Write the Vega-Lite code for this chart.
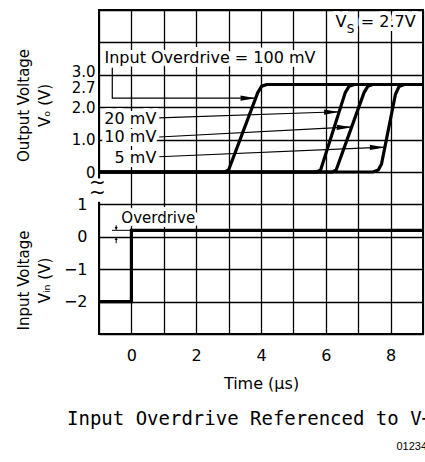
{
  "$schema": "https://vega.github.io/schema/vega-lite/v6.json",
  "autosize": {"type": "none"},
  "padding": {"left": 99, "top": 10, "right": 2, "bottom": 128},
  "width": 324,
  "height": 324,
  "background": "white",
  "config": {
    "view": {"stroke": "#000", "strokeWidth": 2},
    "font": "DejaVu Sans",
    "axis": {"labelFont": "DejaVu Sans", "titleFont": "DejaVu Sans", "labelColor": "#000", "titleColor": "#000", "titleFontWeight": "normal", "ticks": false, "domain": false, "gridColor": "#000", "gridWidth": 1.3, "gridOpacity": 1, "labelOverlap": false, "labelFlush": false},
    "text": {"font": "DejaVu Sans", "fontSize": 16, "color": "#000"}
  },
  "title": {"text": "Input Overdrive Referenced to V+", "orient": "bottom", "anchor": "start", "frame": "group", "dx": -32, "font": "DejaVu Sans Mono", "fontSize": 19, "fontWeight": "normal", "color": "#000", "offset": -42, "baseline": "top"},
  "datasets": {
    "traces": [
      {"id": "100", "t": -1, "vo": 0}, {"id": "100", "t": 2.88, "vo": 0}, {"id": "100", "t": 3.0, "vo": 0.06}, {"id": "100", "t": 3.9, "vo": 2.45}, {"id": "100", "t": 4.02, "vo": 2.65}, {"id": "100", "t": 4.18, "vo": 2.7}, {"id": "100", "t": 9, "vo": 2.7},
      {"id": "20", "t": -1, "vo": 0}, {"id": "20", "t": 5.72, "vo": 0}, {"id": "20", "t": 5.84, "vo": 0.06}, {"id": "20", "t": 6.6, "vo": 2.45}, {"id": "20", "t": 6.72, "vo": 2.65}, {"id": "20", "t": 6.88, "vo": 2.7}, {"id": "20", "t": 9, "vo": 2.7},
      {"id": "10", "t": -1, "vo": 0}, {"id": "10", "t": 6.2, "vo": 0}, {"id": "10", "t": 6.32, "vo": 0.06}, {"id": "10", "t": 7.18, "vo": 2.45}, {"id": "10", "t": 7.3, "vo": 2.65}, {"id": "10", "t": 7.45, "vo": 2.7}, {"id": "10", "t": 9, "vo": 2.7},
      {"id": "5", "t": -1, "vo": 0}, {"id": "5", "t": 7.45, "vo": 0}, {"id": "5", "t": 7.62, "vo": 0.06}, {"id": "5", "t": 7.72, "vo": 0.25}, {"id": "5", "t": 8.15, "vo": 2.4}, {"id": "5", "t": 8.26, "vo": 2.64}, {"id": "5", "t": 8.42, "vo": 2.7}, {"id": "5", "t": 9, "vo": 2.7}
    ],
    "leaders": [
      {"id": "100", "k": 0, "t": -0.59, "vo": 3.22}, {"id": "100", "k": 1, "t": -0.59, "vo": 2.28}, {"id": "100", "k": 2, "t": 3.83, "vo": 2.28},
      {"id": "20", "k": 0, "t": 0.86, "vo": 1.67}, {"id": "20", "k": 1, "t": 6.41, "vo": 1.86},
      {"id": "10", "k": 0, "t": 0.86, "vo": 1.08}, {"id": "10", "k": 1, "t": 6.8, "vo": 1.39},
      {"id": "5", "k": 0, "t": 0.86, "vo": 0.47}, {"id": "5", "k": 1, "t": 7.82, "vo": 0.77}
    ],
    "arrows": [
      {"t": 3.6, "vo": 2.28}, {"t": 6.18, "vo": 1.85}, {"t": 6.57, "vo": 1.38}, {"t": 7.59, "vo": 0.76}
    ],
    "labels_left": [
      {"t": -0.83, "vo": 3.36, "label": "Input Overdrive = 100 mV"},
      {"t": 6.3, "vo": 4.48, "label": "V"},
      {"t": 7.08, "vo": 4.48, "label": "= 2.7V"}
    ],
    "labels_right": [
      {"t": 0.77, "vo": 1.48, "label": "20 mV"},
      {"t": 0.77, "vo": 0.93, "label": "10 mV"},
      {"t": 0.77, "vo": 0.28, "label": "5 mV"}
    ],
    "labels_sub": [{"t": 6.65, "vo": 4.3, "label": "S"}],
    "break_gap": [{"t": -1, "vo": -0.2, "vo2": -0.92}],
    "squiggles": [{"t": -1.05, "vo": -0.35, "label": "~"}, {"t": -1.05, "vo": -0.66, "label": "~"}],
    "vin_trace": [
      {"k": 0, "t": -1, "vin": -2}, {"k": 1, "t": 0, "vin": -2}, {"k": 2, "t": 0, "vin": 0.2}, {"k": 3, "t": 9, "vin": 0.2}
    ],
    "vin_labels": [{"t": -0.31, "vin": 0.43, "label": "Overdrive"}],
    "od_lines": [
      {"id": "h", "k": 0, "t": -0.6, "vin": 0.2}, {"id": "h", "k": 1, "t": 0, "vin": 0.2},
      {"id": "a", "k": 0, "t": -0.47, "vin": 0.36}, {"id": "a", "k": 1, "t": -0.47, "vin": 0.22},
      {"id": "b", "k": 0, "t": -0.47, "vin": -0.2}, {"id": "b", "k": 1, "t": -0.47, "vin": -0.02}
    ],
    "od_down": [{"t": -0.47, "vin": 0.26}],
    "od_up": [{"t": -0.47, "vin": -0.06}],
    "fig_id": [{"t": 8.18, "vin": -6.58, "label": "01234567"}]
  },
  "encoding": {
    "x": {"field": "t", "type": "quantitative", "scale": {"domain": [-1, 9], "nice": false, "zero": false},
      "axis": {"values": [-1, 0, 1, 2, 3, 4, 5, 6, 7, 8, 9], "grid": true, "labelExpr": "datum.value >= 0 && datum.value % 2 == 0 ? datum.label : ''", "labelFontSize": 16, "labelPadding": 13, "title": "Time (μs)", "titleFontSize": 16, "titleY": 54, "titleBaseline": "alphabetic"}}
  },
  "layer": [
    {
      "encoding": {
        "y": {"field": "vo", "type": "quantitative", "scale": {"domain": [-5, 5], "nice": false, "zero": false},
          "axis": {"orient": "left", "values": [0, 1, 2, 2.7, 3], "grid": false, "labelExpr": "datum.value == 0 ? '0' : format(datum.value, '.1f')", "labelFontSize": 15, "labelPadding": 4,
            "labelOffset": {"condition": [{"test": "datum.value == 3", "value": -3}, {"test": "datum.value == 2.7", "value": 3}], "value": 0},
            "title": ["Output Voltage", "Vₒ (V)"], "titleFontSize": 15, "titleAngle": -90, "titleAlign": "center", "titleBaseline": "middle", "titleX": -76, "titleY": 95, "titleLineHeight": 21}}
      },
      "layer": [
        {"data": {"name": "labels_left"}, "mark": {"type": "text", "align": "left", "baseline": "alphabetic", "fill": "#fff", "stroke": "#fff", "strokeWidth": 8, "strokeJoin": "round"}, "encoding": {"text": {"field": "label"}}},
        {"data": {"name": "labels_right"}, "mark": {"type": "text", "align": "right", "baseline": "alphabetic", "fill": "#fff", "stroke": "#fff", "strokeWidth": 8, "strokeJoin": "round"}, "encoding": {"text": {"field": "label"}}},
        {"data": {"name": "labels_sub"}, "mark": {"type": "text", "align": "left", "baseline": "alphabetic", "fontSize": 12, "fill": "#fff", "stroke": "#fff", "strokeWidth": 8, "strokeJoin": "round"}, "encoding": {"text": {"field": "label"}}},
        {"data": {"name": "labels_left"}, "mark": {"type": "text", "align": "left", "baseline": "alphabetic", "color": "#000"}, "encoding": {"text": {"field": "label"}}},
        {"data": {"name": "labels_right"}, "mark": {"type": "text", "align": "right", "baseline": "alphabetic", "color": "#000"}, "encoding": {"text": {"field": "label"}}},
        {"data": {"name": "labels_sub"}, "mark": {"type": "text", "align": "left", "baseline": "alphabetic", "fontSize": 12, "color": "#000"}, "encoding": {"text": {"field": "label"}}},
        {"data": {"name": "leaders"}, "mark": {"type": "line", "color": "#000", "strokeWidth": 1.2}, "encoding": {"detail": {"field": "id"}, "order": {"field": "k"}}},
        {"data": {"name": "arrows"}, "mark": {"type": "point", "shape": "M-1,-0.35L1,0L-1,0.35Z", "size": 225, "filled": true, "color": "#000", "opacity": 1, "strokeWidth": 0}},
        {"data": {"name": "traces"}, "mark": {"type": "line", "color": "#000", "strokeWidth": 3.2, "strokeJoin": "round"}, "encoding": {"detail": {"field": "id"}}},
        {"data": {"name": "break_gap"}, "mark": {"type": "rule", "color": "#fff", "strokeWidth": 5}, "encoding": {"y2": {"field": "vo2"}}},
        {"data": {"name": "squiggles"}, "mark": {"type": "text", "align": "center", "baseline": "middle", "fontSize": 20, "color": "#000"}, "encoding": {"text": {"field": "label"}}}
      ]
    },
    {
      "encoding": {
        "y": {"field": "vin", "type": "quantitative", "scale": {"domain": [-3, 7], "nice": false, "zero": false},
          "axis": {"orient": "left", "values": [-3, -2, -1, 0, 1, 2, 3, 4, 5, 6, 7], "grid": true, "labelExpr": "datum.value >= -2 && datum.value <= 1 ? datum.label : ''", "labelFontSize": 16, "labelPadding": 12,
            "title": ["Input Voltage", "Vᵢₙ (V)"], "titleFontSize": 15, "titleAngle": -90, "titleAlign": "center", "titleBaseline": "middle", "titleX": -76, "titleY": 270, "titleLineHeight": 21}}
      },
      "layer": [
        {"data": {"name": "vin_labels"}, "mark": {"type": "text", "align": "left", "baseline": "alphabetic", "fontSize": 15, "fill": "#fff", "stroke": "#fff", "strokeWidth": 8, "strokeJoin": "round"}, "encoding": {"text": {"field": "label"}}},
        {"data": {"name": "vin_labels"}, "mark": {"type": "text", "align": "left", "baseline": "alphabetic", "fontSize": 15, "color": "#000"}, "encoding": {"text": {"field": "label"}}},
        {"data": {"name": "od_lines"}, "mark": {"type": "line", "color": "#000", "strokeWidth": 1}, "encoding": {"detail": {"field": "id"}, "order": {"field": "k"}}},
        {"data": {"name": "od_down"}, "mark": {"type": "point", "shape": "triangle-down", "size": 10, "filled": true, "color": "#000", "opacity": 1}},
        {"data": {"name": "od_up"}, "mark": {"type": "point", "shape": "triangle-up", "size": 10, "filled": true, "color": "#000", "opacity": 1}},
        {"data": {"name": "vin_trace"}, "mark": {"type": "line", "color": "#000", "strokeWidth": 3.2, "strokeJoin": "miter"}, "encoding": {"order": {"field": "k"}}},
        {"data": {"name": "fig_id"}, "mark": {"type": "text", "align": "left", "baseline": "alphabetic", "font": "Liberation Sans", "fontSize": 11, "color": "#000"}, "encoding": {"text": {"field": "label"}}}
      ]
    }
  ],
  "resolve": {"scale": {"y": "independent"}, "axis": {"y": "independent"}}
}
